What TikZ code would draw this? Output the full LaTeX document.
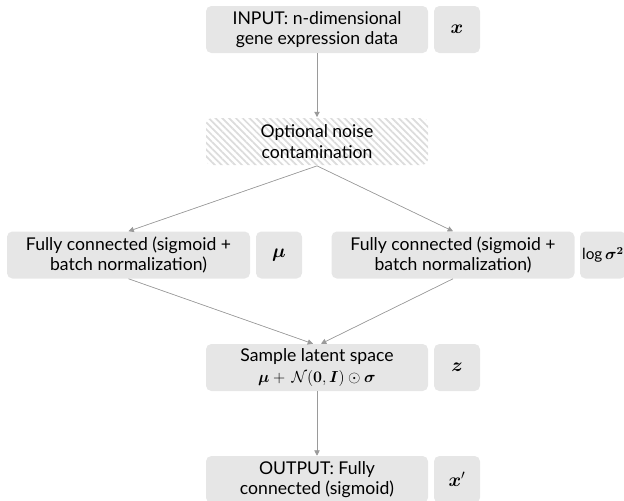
\documentclass[tikz,border=0pt]{standalone}
\usepackage{fontspec}
\setmainfont{Lato}
\usepackage{amsmath,bm}
\usepackage{xcolor}
\usetikzlibrary{arrows.meta,patterns.meta}
\definecolor{boxgray}{HTML}{E6E6E6}
\definecolor{linegray}{HTML}{9A9A9A}
\definecolor{hatchgray}{HTML}{DCDCDC}

\begin{document}
\begin{tikzpicture}[x=0.75pt,y=-0.75pt,
  layer/.style={rectangle, rounded corners=4pt, fill=boxgray, align=center,
    minimum width=166.5pt, minimum height=35.25pt, inner sep=1pt,
    font=\fontsize{13.2}{15.5}\selectfont},
  wide/.style={layer, minimum width=182.25pt},
  var/.style={rectangle, rounded corners=4pt, fill=boxgray,
    minimum width=34.5pt, minimum height=35.25pt, inner sep=0pt,
    font=\fontsize{14}{16}\selectfont},
  noisy/.style={layer, fill=white,
    pattern={Lines[angle=-45, distance=3.6pt, line width=1.3pt]}, pattern color=hatchgray},
  flow/.style={-{Triangle[length=4pt, width=4pt]}, draw=linegray, fill=linegray, line width=0.5pt}]
\useasboundingbox (0,0) rectangle (624,500);

\node[layer] (in) at (317,29.5) {INPUT: n-dimensional\\gene expression data};
\node[var] (inx) at (457,29.5) {$\bm{x}$};
\node[noisy] (noise) at (317,141.5) {Optional noise\\contamination};
\node[wide] (fcl) at (128.5,255) {Fully connected (sigmoid +\\batch normalization)};
\node[var] (mu) at (279,255) {$\bm{\mu}$};
\node[wide] (fcr) at (453,255) {Fully connected (sigmoid +\\batch normalization)};
\node[var, font=\fontsize{11.5}{14}\selectfont] (logv) at (603,255) {$\log\bm{\sigma}^{\bm{2}}$};
\node[layer] (smp) at (317,367.5) {Sample latent space\\$\bm{\mu}+\,\mathcal{N}(\bm{0},\bm{I})\odot\bm{\sigma}$};
\node[var] (z) at (457,367.5) {$\bm{z}$};
\node[layer] (out) at (317,479.5) {OUTPUT: Fully\\connected (sigmoid)};
\node[var] (outx) at (457,479.5) {$\bm{x}'$};

\draw[flow] (in) -- (noise);
\draw[flow] (noise.south) -- (fcl.north);
\draw[flow] (noise.south) -- (fcr.north);
\draw[flow] (fcl.south) -- ([xshift=-3pt]smp.north);
\draw[flow] (fcr.south) -- ([xshift=3pt]smp.north);
\draw[flow] (smp) -- (out);
\end{tikzpicture}
\end{document}
